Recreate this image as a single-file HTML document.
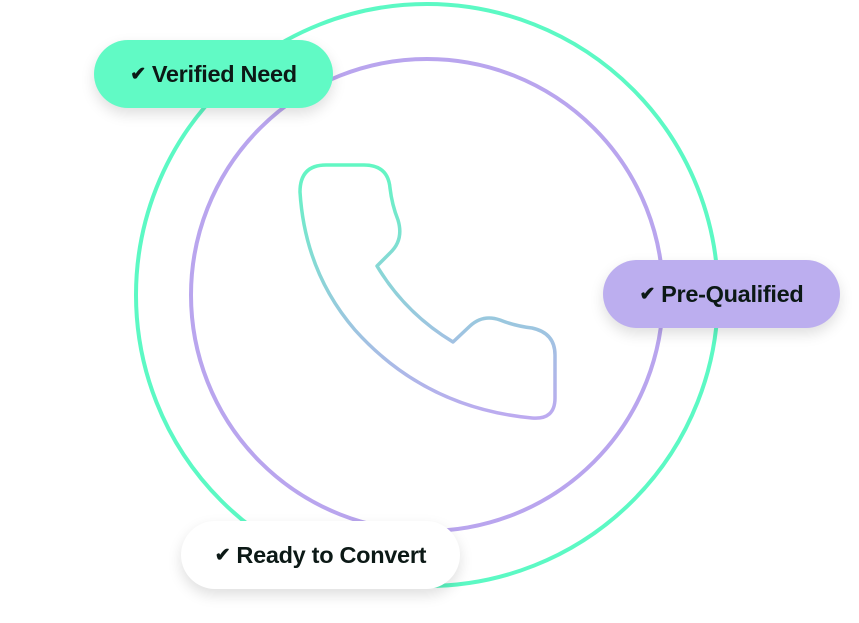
<!DOCTYPE html>
<html><head><meta charset="utf-8"><style>
body{margin:0;width:859px;height:623px;background:#fff;position:relative;overflow:hidden;font-family:"Liberation Sans",sans-serif}
.pill{position:absolute;height:68px;border-radius:34px;display:flex;align-items:center;justify-content:center;font-weight:bold;font-size:23.5px;letter-spacing:-0.3px;color:#0c1916;box-shadow:0 6px 14px rgba(0,0,0,0.13)}
.pill span{font-size:19px;margin-right:6px}
</style></head><body>
<svg width="859" height="623" style="position:absolute;left:0;top:0">
<defs><linearGradient id="g" x1="0" y1="0" x2="0" y2="1"><stop offset="0" stop-color="#62f7c3"/><stop offset="1" stop-color="#bdaaf0"/></linearGradient></defs>
<circle cx="427" cy="295" r="291" fill="none" stroke="#5cf9c4" stroke-width="4"/>
<circle cx="427" cy="295" r="236" fill="none" stroke="#b9a5ee" stroke-width="4"/>
<path d="M326 165 L364 165 Q388 165 390 188 Q392 205 398 220 Q404 240 390 253 L377 266 Q405 313 453 342 L470 326 Q483 314 500 320 Q515 326 532 328 Q555 333 555 355 L555 398 Q555 420 532 418 Q425 408 355 330 Q305 272 300 192 Q300 165 326 165 Z" fill="none" stroke="url(#g)" stroke-width="3.5" stroke-linejoin="round"/>
</svg>
<div class="pill" style="left:94px;top:40px;width:239px;background:#61fac5"><span>✔</span>Verified Need</div>
<div class="pill" style="left:603px;top:260px;width:237px;background:#bcaeef"><span>✔</span>Pre-Qualified</div>
<div class="pill" style="left:181px;top:521px;width:279px;background:#fff"><span>✔</span>Ready to Convert</div>
</body></html>
